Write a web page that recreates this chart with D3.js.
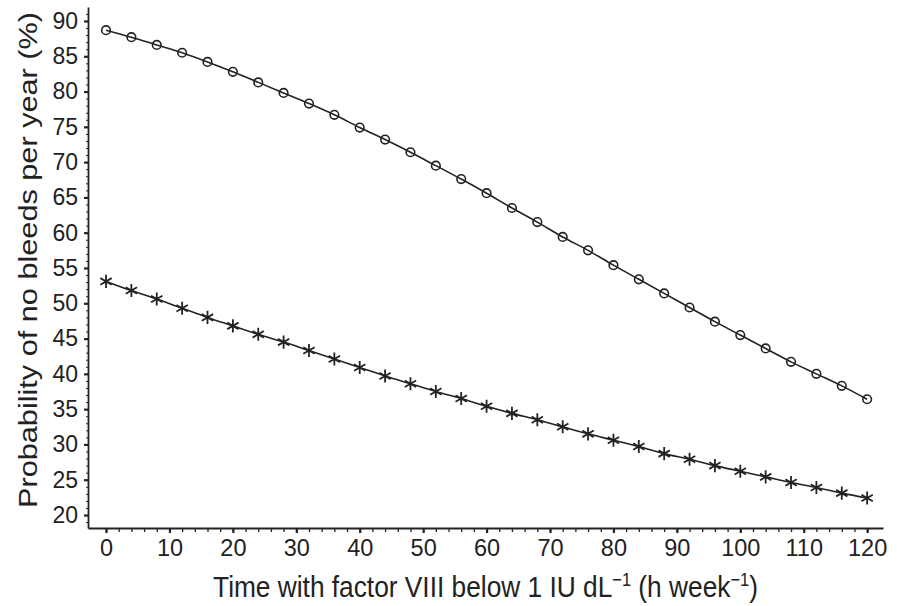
<!DOCTYPE html>
<html><head><meta charset="utf-8">
<script src="https://cdn.jsdelivr.net/npm/d3@7"></script>
<style>
body{margin:0;background:#fff;}
svg text{font-family:"Liberation Sans",Arial,Helvetica,sans-serif;fill:#222;}
</style></head>
<body><svg id="c" width="901" height="606"></svg>
<script>
const hours = [0,4,8,12,16,20,24,28,32,36,40,44,48,52,56,60,64,68,72,76,80,84,88,92,96,100,104,108,112,116,120];
const circleSeries = [88.7,87.7,86.6,85.5,84.2,82.8,81.3,79.8,78.3,76.7,74.9,73.2,71.4,69.5,67.6,65.6,63.5,61.5,59.4,57.5,55.4,53.4,51.4,49.4,47.4,45.5,43.6,41.7,40.0,38.3,36.4];
const starSeries = [53.1,51.8,50.6,49.3,48.0,46.8,45.6,44.5,43.3,42.1,40.9,39.7,38.6,37.5,36.5,35.4,34.4,33.5,32.5,31.5,30.6,29.7,28.7,27.9,27.0,26.2,25.4,24.6,23.9,23.1,22.4];
const xTicks = [0,10,20,30,40,50,60,70,80,90,100,110,120];
const xMinorTicks = d3.range(0,121,2);
const yTicks = [20,25,30,35,40,45,50,55,60,65,70,75,80,85,90];
const yMinorTicks = d3.range(19,92,1);
const xTitle = ["Time with factor VIII below 1 IU dL","\u22121"," (h week","\u22121",")"];
const yTitle = "Probability of no bleeds per year (%)";

const svg = d3.select("#c");
const ink = "#222";
const x = d3.scaleLinear().domain([-2.84,122.5]).range([88,883]);
const y = d3.scaleLinear().domain([18.16,91.98]).range([528,7]);

// minor ticks
svg.append("g").attr("transform","translate(0,528)")
  .call(d3.axisBottom(x).tickValues(xMinorTicks).tickSize(4).tickSizeOuter(0).tickFormat(""))
  .call(g=>g.select(".domain").remove())
  .call(g=>g.selectAll("line").attr("stroke",ink).attr("stroke-width",1.3));
svg.append("g").attr("transform","translate(88,0)")
  .call(d3.axisLeft(y).tickValues(yMinorTicks).tickSize(2).tickSizeOuter(0).tickFormat(""))
  .call(g=>g.select(".domain").remove())
  .call(g=>g.selectAll("line").attr("stroke",ink).attr("stroke-width",1));

// major axes
const gx = svg.append("g").attr("transform","translate(0,528)")
  .call(d3.axisBottom(x).tickValues(xTicks).tickSize(5).tickSizeOuter(0).tickPadding(6));
gx.select(".domain").attr("stroke",ink).attr("stroke-width",1.8);
gx.selectAll(".tick line").attr("stroke",ink).attr("stroke-width",2.2);
gx.selectAll(".tick text").attr("font-size",23.5).attr("fill",ink)
  .attr("font-family","Liberation Sans, Arial, sans-serif");

const gy = svg.append("g").attr("transform","translate(88,0)")
  .call(d3.axisLeft(y).tickValues(yTicks).tickSize(4).tickSizeOuter(0).tickPadding(6));
gy.select(".domain").attr("stroke",ink).attr("stroke-width",1.8);
gy.selectAll(".tick line").attr("stroke",ink).attr("stroke-width",2.2);
gy.selectAll(".tick text").attr("font-size",23).attr("fill",ink)
  .attr("font-family","Liberation Sans, Arial, sans-serif");

// titles
const xt = svg.append("text").attr("transform",`translate(${(88+883)/2},597) scale(1,1.1)`)
  .attr("text-anchor","middle").attr("font-size",26.3);
xTitle.forEach((s,i)=>{
  const t = xt.append("tspan").text(s);
  if(i%2===1){ t.attr("font-size",16.5).attr("dy",-10); }
  else if(i>0){ t.attr("dy",10); }
});
svg.append("text").attr("transform","translate(37,260) rotate(-90)")
  .attr("text-anchor","middle").attr("font-size",26)
  .attr("textLength",496).attr("lengthAdjust","spacingAndGlyphs").text(yTitle);

// lines
const line = d3.line().x(d=>x(d[0])).y(d=>y(d[1])).curve(d3.curveMonotoneX);
const cData = hours.map((h,i)=>[h,circleSeries[i]]);
const sData = hours.map((h,i)=>[h,starSeries[i]]);
svg.append("path").datum(cData).attr("d",line).attr("fill","none").attr("stroke",ink).attr("stroke-width",1.6);
svg.append("path").datum(sData).attr("d",line).attr("fill","none").attr("stroke",ink).attr("stroke-width",1.6);

svg.append("g").selectAll("circle").data(cData).join("circle")
  .attr("cx",d=>x(d[0])).attr("cy",d=>y(d[1])).attr("r",4.3)
  .attr("fill","none").attr("stroke",ink).attr("stroke-width",1.6);
const star = d3.symbol().type(d3.symbolAsterisk).size(120);
svg.append("g").selectAll("path").data(sData).join("path")
  .attr("transform",d=>`translate(${x(d[0])},${y(d[1])})`).attr("d",star)
  .attr("fill","none").attr("stroke",ink).attr("stroke-width",1.8);
</script></body></html>
